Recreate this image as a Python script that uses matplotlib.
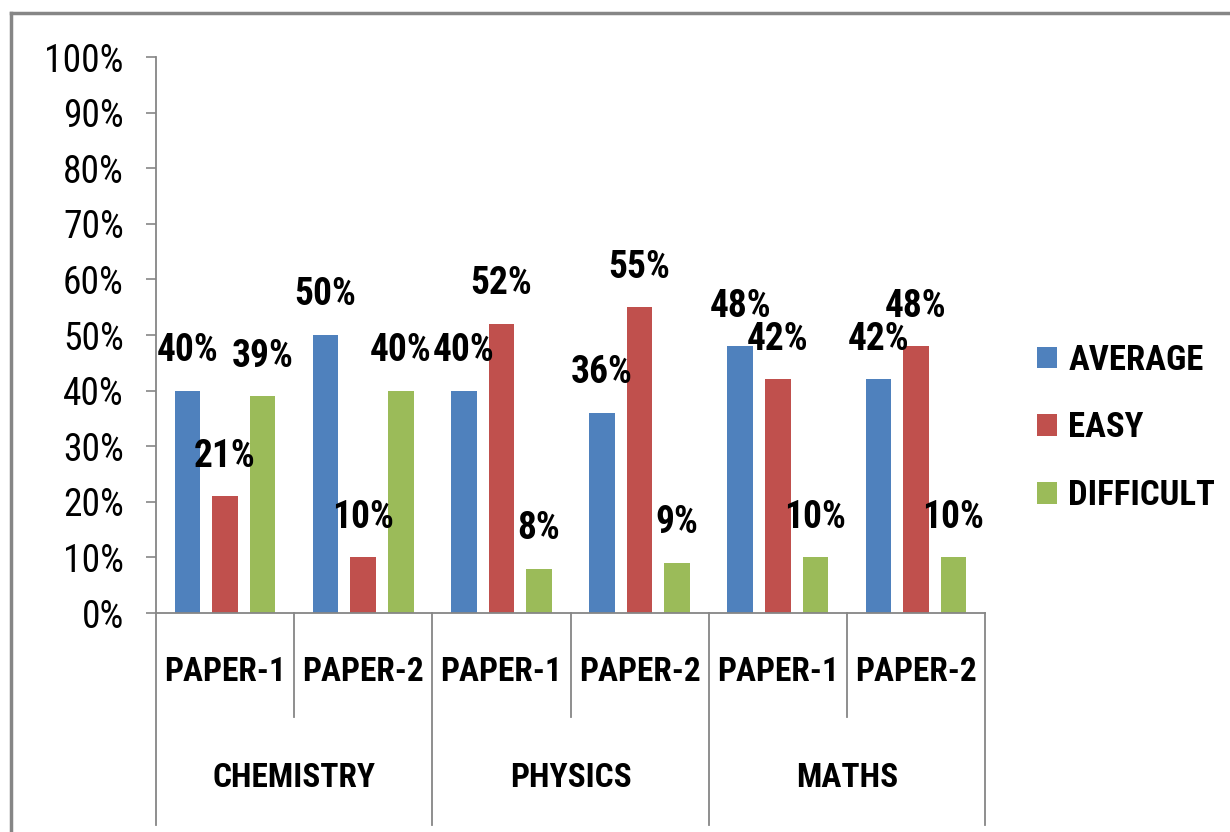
import matplotlib
matplotlib.use("Agg")
import matplotlib.pyplot as plt
from matplotlib import font_manager
from matplotlib.patches import Patch
from matplotlib.lines import Line2D
import numpy as np

subjects = ["CHEMISTRY", "PHYSICS", "MATHS"]
papers = ["PAPER-1", "PAPER-2", "PAPER-1", "PAPER-2", "PAPER-1", "PAPER-2"]
series_names = ["AVERAGE", "EASY", "DIFFICULT"]
average = [40, 50, 40, 36, 48, 42]
easy = [21, 10, 52, 55, 42, 48]
difficult = [39, 40, 8, 9, 10, 10]
yticks = [0, 10, 20, 30, 40, 50, 60, 70, 80, 90, 100]

colors = ["#4F81BD", "#C0504D", "#9BBB59"]
gray = "#868686"

available = {f.name for f in font_manager.fontManager.ttflist}
fam = "DejaVu Sans"
for cand in ["Liberation Sans Narrow", "DejaVu Sans Condensed", "Roboto Condensed",
             "Open Sans Condensed", "Liberation Sans"]:
    if cand in available:
        fam = cand
        break
plt.rcParams["font.family"] = [fam, "DejaVu Sans"]
FS = 24
FS_Y = 27
FS_D = 27
FS_L = 25

W, H = 1230, 832
fig = plt.figure(figsize=(W / 100, H / 100), dpi=100)
L, R, T, B = 156, 985, 57, 613
ax = fig.add_axes([L / W, 1 - B / H, (R - L) / W, (B - T) / H])

n = len(papers)
x = np.arange(n) + 0.5
step, width = 0.272, 0.185
all_series = [average, easy, difficult]
for i, (vals, c) in enumerate(zip(all_series, colors)):
    xs = x + (i - 1) * step
    ax.bar(xs, vals, width=width, color=c, label=series_names[i])
    for xi, v in zip(xs, vals):
        ax.text(xi, v + 7.2, f"{v}%", ha="center", va="center", fontsize=FS_D,
                fontweight="semibold", color="black")

ax.set_xlim(0, n)
ax.set_ylim(0, 100)
ax.set_yticks(yticks)
ax.set_yticklabels([f"{t}%" for t in yticks], fontsize=FS_Y)
ax.tick_params(axis="y", direction="out", length=7.2, width=1.2, color=gray, pad=16)
ax.set_xticks([])
for s in ["top", "right"]:
    ax.spines[s].set_visible(False)
for s in ["left", "bottom"]:
    ax.spines[s].set_color(gray)
    ax.spines[s].set_linewidth(1.3)

trans = ax.get_xaxis_transform()
ax_h = B - T
paper_bottom = (B - 717) / ax_h
group_bottom = (B - 825) / ax_h
for k in range(n + 1):
    yb = group_bottom if k % 2 == 0 else paper_bottom
    ax.add_line(Line2D([k, k], [0, yb], transform=trans, color=gray, lw=1.3, clip_on=False))

for xi, p in zip(x, papers):
    ax.text(xi, (B - 672) / ax_h, p, transform=trans, ha="center", va="center",
            fontsize=FS, fontweight="bold")
for g, s in enumerate(subjects):
    ax.text(2 * g + 1, (B - 778) / ax_h, s, transform=trans, ha="center", va="center",
            fontsize=FS, fontweight="bold")

handles = [Patch(facecolor=c, edgecolor="none") for c in colors]
fig.legend(handles, series_names, loc="center left",
           bbox_to_anchor=(1037 / W, 1 - 428 / H), frameon=False,
           prop={"weight": "bold", "size": FS_L}, borderpad=0, borderaxespad=0,
           handlelength=0.58, handleheight=0.58, handletextpad=0.32, labelspacing=1.0)

# figure border (top and left visible)
fig.add_artist(Line2D([11 / W, 1.0], [1 - 13 / H, 1 - 13 / H], transform=fig.transFigure,
                      color=gray, lw=2.5))
fig.add_artist(Line2D([11 / W, 11 / W], [0, 1 - 13 / H], transform=fig.transFigure,
                      color=gray, lw=2.5))

fig.savefig("out.png", dpi=100)
